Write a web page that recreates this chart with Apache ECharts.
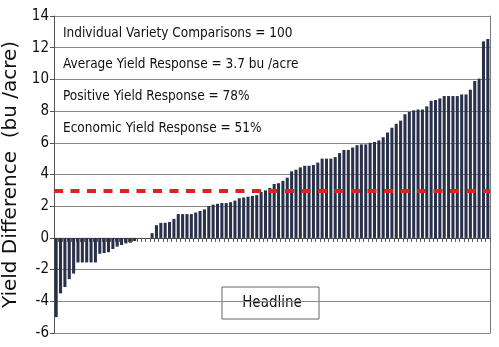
<!DOCTYPE html>
<html>
<head>
<meta charset="utf-8">
<script src="https://cdn.jsdelivr.net/npm/echarts@6/dist/echarts.min.js"></script>
<style>
  html, body { margin: 0; padding: 0; background: #ffffff; }
  #chart { width: 499px; height: 347px; }
</style>
</head>
<body>
<div id="chart"></div>
<script>
// Yield difference per individual variety comparison, sorted low to high (bu/acre)
const yieldDiff = [
  -5.0, -3.5, -3.1, -2.6, -2.25, -1.55, -1.55, -1.55, -1.55, -1.55,
  -1.0, -0.95, -0.9, -0.7, -0.55, -0.45, -0.35, -0.3, -0.2, 0,
  0, 0, 0.3, 0.8, 0.95, 0.95, 1.0, 1.2, 1.5, 1.5,
  1.5, 1.5, 1.6, 1.7, 1.8, 2.0, 2.1, 2.15, 2.2, 2.2,
  2.25, 2.35, 2.5, 2.55, 2.6, 2.65, 2.7, 2.9, 3.0, 3.15,
  3.4, 3.45, 3.6, 3.8, 4.2, 4.3, 4.45, 4.55, 4.55, 4.6,
  4.75, 5.0, 5.0, 5.0, 5.1, 5.35, 5.55, 5.55, 5.7, 5.85,
  5.9, 5.9, 6.0, 6.05, 6.15, 6.35, 6.65, 6.95, 7.2, 7.4,
  7.8, 7.95, 8.05, 8.1, 8.1, 8.3, 8.65, 8.7, 8.8, 8.95,
  8.95, 8.95, 8.95, 9.05, 9.05, 9.35, 9.9, 10.05, 12.4, 12.55
];
const comparisons = yieldDiff.map((_, i) => String(i + 1));

// Economic threshold (bu/acre)
const economicThreshold = 3.0;

// Y axis range and step
const yMin = -6, yMax = 14, yStep = 2;

// Summary statements
const summaryLines = [
  'Individual Variety Comparisons = 100',
  'Average Yield Response = 3.7 bu /acre',
  'Positive Yield Response = 78%',
  'Economic Yield Response = 51%'
];
const headlineText = 'Headline';

const chart = echarts.init(document.getElementById('chart'), null, { renderer: 'canvas' });

const condensed = '"DejaVu Sans Condensed", "DejaVu Sans", sans-serif';

const summaryGraphics = summaryLines.map((t, i) => ({
  type: 'text',
  x: 63,
  y: 33 + i * 31.7,
  z: 10,
  style: {
    text: t,
    fill: '#111',
    font: '13.5px ' + condensed,
    verticalAlign: 'middle',
    align: 'left'
  }
}));

chart.setOption({
  animation: false,
  backgroundColor: '#ffffff',
  grid: { left: 54, right: 9, top: 16, bottom: 14, containLabel: false, outerBoundsMode: 'none', show: false },
  xAxis: {
    type: 'category',
    data: comparisons,
    boundaryGap: true,
    axisLine: { show: true, onZero: true, lineStyle: { color: '#444', width: 1 } },
    axisTick: { show: true, inside: false, length: 4, interval: 0, lineStyle: { color: '#555' } },
    axisLabel: { show: false },
    splitLine: { show: false }
  },
  yAxis: [{
    type: 'value',
    min: yMin, max: yMax, interval: yStep,
    name: 'Yield Difference  (bu /acre)',
    nameLocation: 'middle',
    nameGap: 31,
    nameTextStyle: { fontSize: 20, color: '#111', fontFamily: '"DejaVu Sans", Verdana, sans-serif' },
    axisLine: { show: true, lineStyle: { color: '#555' } },
    axisTick: { show: true, length: 4, lineStyle: { color: '#555' } },
    axisLabel: { fontSize: 15, color: '#111', fontFamily: condensed, margin: 5 },
    splitLine: { show: true, lineStyle: { color: '#8a8a8a', width: 1 } }
  }, {
    type: 'value',
    position: 'right',
    min: yMin, max: yMax, interval: yStep,
    axisLine: { show: true, lineStyle: { color: '#777' } },
    axisTick: { show: false },
    axisLabel: { show: false },
    splitLine: { show: false }
  }],
  series: [{
    type: 'bar',
    data: yieldDiff,
    barCategoryGap: '30%',
    itemStyle: { color: '#29304a' },
    markLine: {
      silent: true,
      symbol: 'none',
      label: { show: false },
      lineStyle: { color: '#e3211c', width: 4, type: [9, 7.5] },
      data: [{ yAxis: economicThreshold }]
    }
  }],
  graphic: [
    ...summaryGraphics,
    {
      type: 'group',
      z: 20,
      children: [
        {
          type: 'rect',
          shape: { x: 222, y: 287, width: 97, height: 32 },
          style: { fill: '#ffffff', stroke: '#666', lineWidth: 1 }
        },
        {
          type: 'text',
          x: 272, y: 303,
          style: {
            text: headlineText,
            fill: '#111',
            font: '15px ' + condensed,
            align: 'center',
            verticalAlign: 'middle'
          }
        }
      ]
    }
  ]
});
</script>
</body>
</html>
